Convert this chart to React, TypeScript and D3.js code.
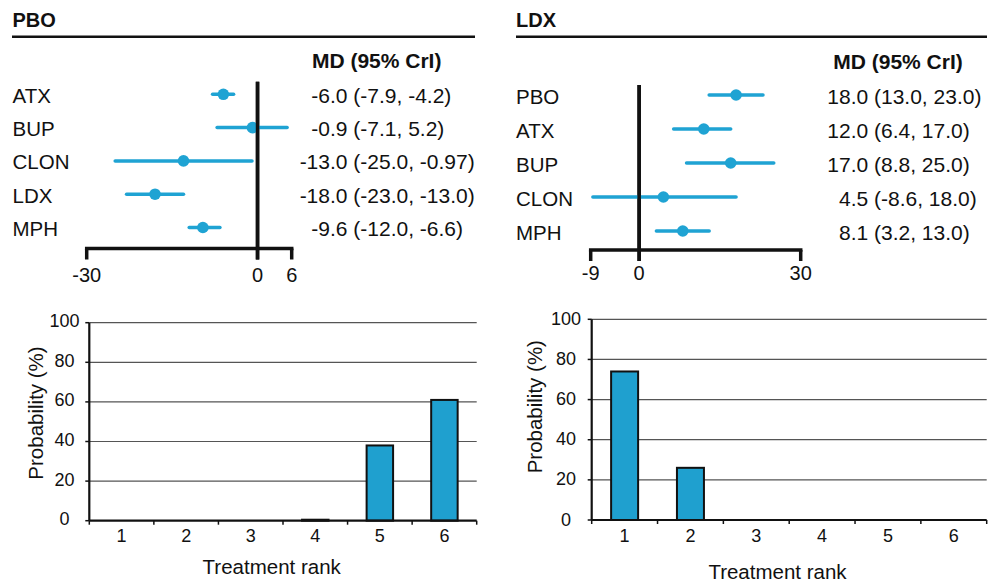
import React from "react";
import * as d3 from "d3";

// ---------- data ----------
const pboTreatments = ["ATX", "BUP", "CLON", "LDX", "MPH"];
const pboMD = [-6.0, -0.9, -13.0, -18.0, -9.6];
const pboLow = [-7.9, -7.1, -25.0, -23.0, -12.0];
const pboHigh = [-4.2, 5.2, -0.97, -13.0, -6.6];
const pboTicks = [-30, 0, 6];

const ldxTreatments = ["PBO", "ATX", "BUP", "CLON", "MPH"];
const ldxMD = [18.0, 12.0, 17.0, 4.5, 8.1];
const ldxLow = [13.0, 6.4, 8.8, -8.6, 3.2];
const ldxHigh = [23.0, 17.0, 25.0, 18.0, 13.0];
const ldxTicks = [-9, 0, 30];

const ranks = ["1", "2", "3", "4", "5", "6"];
const pboRankProb = [0, 0, 0, 0.5, 38, 61];
const ldxRankProb = [74, 26, 0, 0, 0, 0];
const probTicks = [0, 20, 40, 60, 80, 100];

// ---------- style ----------
const FONT = "'Liberation Sans', Arial, Helvetica, sans-serif";
const BLUE = "#1fa3d3";
const BAR = "#1fa0cf";
const INK = "#111";

const fmt = (v: number) => {
  const oneDec = Math.abs(v * 10 - Math.round(v * 10)) < 1e-6;
  return oneDec ? v.toFixed(1) : v.toFixed(2);
};

type ForestLayout = {
  title: string;
  titleX: number; titleY: number;
  lineX1: number; lineX2: number; lineY: number;
  headerX: number; headerY: number;
  labelX: number; rowTop: number; rowBottom: number;
  xDomain: [number, number]; xRange: [number, number];
  axisY: number; zeroTop: number; tickBottom: number; tickLabelY: number;
  parenX: number;
};

function Forest({ L, names, md, lo, hi, ticks }: { L: ForestLayout; names: string[]; md: number[]; lo: number[]; hi: number[]; ticks: number[] }) {
  const x = d3.scaleLinear().domain(L.xDomain).range(L.xRange);
  const y = d3.scalePoint<string>().domain(names).range([L.rowTop, L.rowBottom]);
  return (
    <g fontFamily={FONT} fill={INK}>
      <text x={L.titleX} y={L.titleY} fontSize={20} fontWeight="bold">{L.title}</text>
      <line x1={L.lineX1} x2={L.lineX2} y1={L.lineY} y2={L.lineY} stroke={INK} strokeWidth={2.5} />
      <text x={L.headerX} y={L.headerY} fontSize={21} fontWeight="bold" textAnchor="middle">MD (95% CrI)</text>
      {/* axis */}
      <line x1={x(L.xDomain[0])} x2={x(L.xDomain[1])} y1={L.axisY} y2={L.axisY} stroke={INK} strokeWidth={3.5} strokeLinecap="square" />
      {ticks.map((t) => (
        <g key={t}>
          <line x1={x(t)} x2={x(t)} y1={t === 0 ? L.zeroTop : L.axisY} y2={L.tickBottom} stroke={INK} strokeWidth={3.5} />
          <text x={x(t)} y={L.tickLabelY} fontSize={20} textAnchor="middle">{t}</text>
        </g>
      ))}
      {names.map((n, i) => {
        const yy = y(n) as number;
        return (
          <g key={n}>
            <text x={L.labelX} y={yy + 8.5} fontSize={20.5}>{n}</text>
            <line x1={x(lo[i])} x2={x(hi[i])} y1={yy} y2={yy} stroke={BLUE} strokeWidth={3.5} strokeLinecap="round" />
            <circle cx={x(md[i])} cy={yy} r={5.8} fill={BLUE} />
            <text x={L.parenX - 5.8} y={yy + 8.5} fontSize={21} textAnchor="end">{fmt(md[i])}</text>
            <text x={L.parenX} y={yy + 8.5} fontSize={21}>{`(${fmt(lo[i])}, ${fmt(hi[i])})`}</text>
          </g>
        );
      })}
      {/* redraw zero line on top */}
      <line x1={x(0)} x2={x(0)} y1={L.zeroTop} y2={L.tickBottom} stroke={INK} strokeWidth={3.5} />
    </g>
  );
}

type BarLayout = {
  xRange: [number, number]; yRange: [number, number];
  tickLabelX: number; tickLabelDy: number; xTickLabelY: number;
  xLabelX: number; xLabelY: number; yLabelX: number; yLabelY: number;
};

function Bars({ L, values }: { L: BarLayout; values: number[] }) {
  const x = d3.scaleBand<string>().domain(ranks).range(L.xRange).paddingInner(0.59).paddingOuter(0.295);
  const y = d3.scaleLinear().domain([0, 100]).range(L.yRange);
  const step = x.step();
  const bounds = ranks.map((r) => (x(r) as number) - step * 0.295).concat([L.xRange[1]]);
  return (
    <g fontFamily={FONT} fill={INK}>
      {probTicks.map((t) => (
        <g key={t}>
          {t > 0 && <line x1={L.xRange[0]} x2={L.xRange[1]} y1={y(t)} y2={y(t)} stroke="#555" strokeWidth={1.2} />}
          <line x1={L.xRange[0] - 4} x2={L.xRange[0]} y1={y(t)} y2={y(t)} stroke={INK} strokeWidth={1.5} />
          <text x={L.tickLabelX} y={y(t) + L.tickLabelDy} fontSize={18} textAnchor="middle">{t}</text>
        </g>
      ))}
      {values.map((v, i) => (
        <rect key={i} x={x(ranks[i])} y={y(v)} width={x.bandwidth()} height={y(0) - y(v)} fill={BAR} stroke={INK} strokeWidth={2} />
      ))}
      <line x1={L.xRange[0]} x2={L.xRange[0]} y1={y(0)} y2={y(100)} stroke={INK} strokeWidth={2.2} />
      <line x1={L.xRange[0]} x2={L.xRange[1]} y1={y(0)} y2={y(0)} stroke={INK} strokeWidth={2.2} />
      {bounds.map((b, i) => (
        <line key={i} x1={b} x2={b} y1={y(0)} y2={y(0) + 4} stroke={INK} strokeWidth={1.5} />
      ))}
      {ranks.map((r) => (
        <text key={r} x={(x(r) as number) + x.bandwidth() / 2} y={L.xTickLabelY} fontSize={18} textAnchor="middle">{r}</text>
      ))}
      <text x={L.xLabelX} y={L.xLabelY} fontSize={20.5} textAnchor="middle">Treatment rank</text>
      <text transform={`translate(${L.yLabelX},${L.yLabelY}) rotate(-90)`} fontSize={20.5} textAnchor="middle">Probability (%)</text>
    </g>
  );
}

const leftForest: ForestLayout = {
  title: "PBO", titleX: 12.5, titleY: 26.7, lineX1: 12, lineX2: 475, lineY: 36.7,
  headerX: 376.7, headerY: 67.7, labelX: 12.5, rowTop: 94.3, rowBottom: 227.5,
  xDomain: [-30, 6], xRange: [86.7, 291.7], axisY: 248.5, zeroTop: 81.7, tickBottom: 259.5,
  tickLabelY: 281.7, parenX: 353.3,
};
const rightForest: ForestLayout = {
  title: "LDX", titleX: 516, titleY: 26.7, lineX1: 516, lineX2: 987, lineY: 36.7,
  headerX: 898, headerY: 69, labelX: 516, rowTop: 95, rowBottom: 231,
  xDomain: [-9, 30], xRange: [590.7, 800.7], axisY: 250, zeroTop: 85, tickBottom: 261,
  tickLabelY: 280, parenX: 874,
};
const leftBars: BarLayout = {
  xRange: [89.3, 476.7], yRange: [520.7, 322.7], tickLabelX: 64.5, tickLabelDy: 4.4, xTickLabelY: 541.7,
  xLabelX: 271.7, xLabelY: 574, yLabelX: 42.7, yLabelY: 413,
};
const rightBars: BarLayout = {
  xRange: [591.7, 986.7], yRange: [520, 319.3], tickLabelX: 566, tickLabelDy: 5.5, xTickLabelY: 541.7,
  xLabelX: 777.5, xLabelY: 579, yLabelX: 541.5, yLabelY: 406.7,
};

export default function App() {
  return (
    <svg width={995} height={586} style={{ position: "absolute", left: 0, top: 0, background: "#fff" }}>
      <rect width={995} height={586} fill="#fff" />
      <Forest L={leftForest} names={pboTreatments} md={pboMD} lo={pboLow} hi={pboHigh} ticks={pboTicks} />
      <Forest L={rightForest} names={ldxTreatments} md={ldxMD} lo={ldxLow} hi={ldxHigh} ticks={ldxTicks} />
      <Bars L={leftBars} values={pboRankProb} />
      <Bars L={rightBars} values={ldxRankProb} />
    </svg>
  );
}
